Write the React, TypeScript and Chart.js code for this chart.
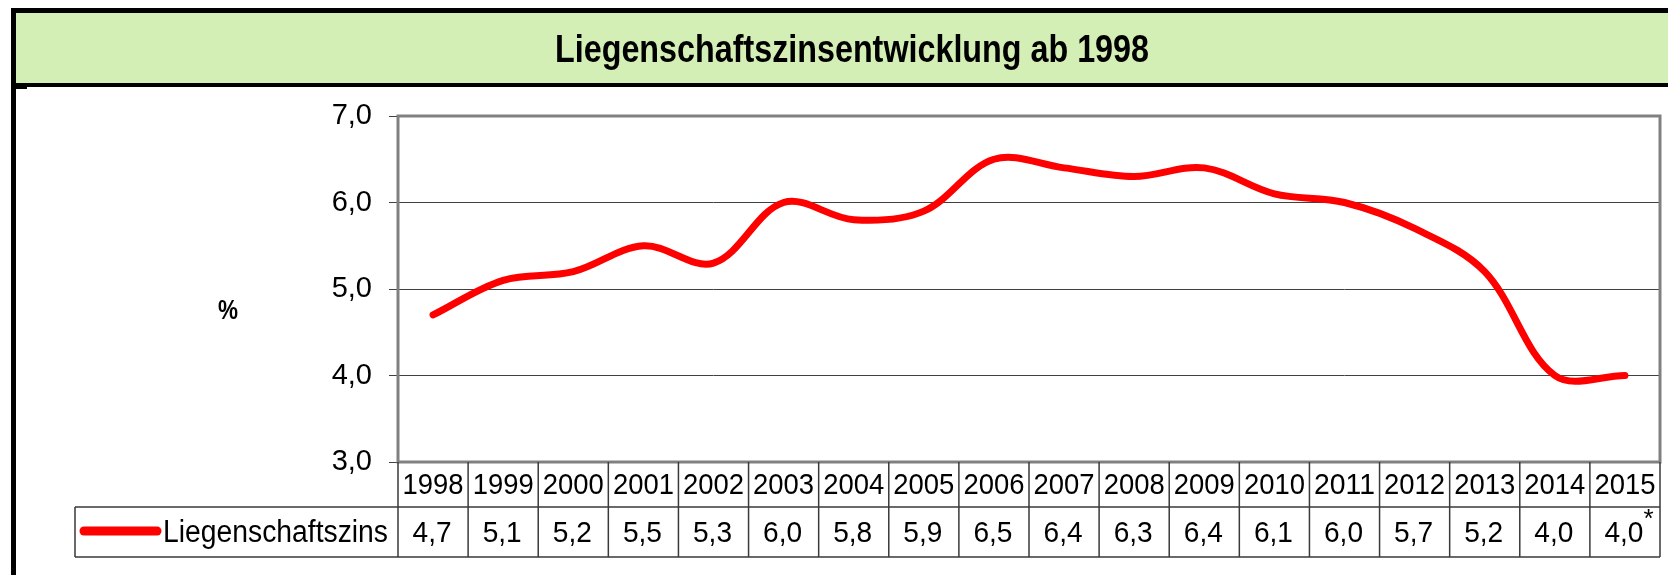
import React, { useEffect, useRef } from "react";
import { Chart, registerables } from "chart.js";

Chart.register(...registerables);

const TITLE = "Liegenschaftszinsentwicklung ab 1998";
const SERIES_NAME = "Liegenschaftszins";
const Y_UNIT = "%";
const YEARS = [
  "1998", "1999", "2000", "2001", "2002", "2003", "2004", "2005", "2006",
  "2007", "2008", "2009", "2010", "2011", "2012", "2013", "2014", "2015",
];
const VALUES = [
  4.7, 5.1, 5.2, 5.5, 5.3, 6.0, 5.8, 5.9, 6.5,
  6.4, 6.3, 6.4, 6.1, 6.0, 5.7, 5.2, 4.0, 4.0,
];
const VALUE_NOTES = [
  "", "", "", "", "", "", "", "", "",
  "", "", "", "", "", "", "", "", "*",
];
const Y_MIN = 3;
const Y_MAX = 7;
const Y_STEP = 1;

const W = 1668;
const H = 575;
const LINE_COLOR = "#ff0000";
const HEADER_GREEN = "#d3efb5";
const TABLE_LINE = "#3a3a3a";
const FONT = "'Liberation Sans', Arial, sans-serif";

const fmt = (v: number) => v.toFixed(1).replace(".", ",");

const framePlugin = {
  id: "frameAndTable",
  beforeDraw(chart: any) {
    const ctx = chart.ctx as CanvasRenderingContext2D;
    ctx.save();
    ctx.fillStyle = "#ffffff";
    ctx.fillRect(0, 0, chart.width, chart.height);
    // header band
    ctx.fillStyle = HEADER_GREEN;
    ctx.fillRect(14, 11, chart.width, 74);
    ctx.fillStyle = "#000000";
    ctx.fillRect(11, 8, chart.width, 5);
    ctx.fillRect(11, 83, chart.width, 4);
    ctx.fillRect(11, 8, 5, chart.height);
    ctx.fillRect(14, 87, 13, 2);
    // title
    ctx.font = "bold 39px 'Liberation Sans Narrow', 'Arial Narrow', " + FONT;
    ctx.textAlign = "center";
    ctx.textBaseline = "alphabetic";
    ctx.fillStyle = "#000000";
    ctx.fillText(TITLE, 852, 62, 594);
    // unit label
    ctx.font = "bold 28px " + FONT;
    ctx.textBaseline = "middle";
    ctx.fillText(Y_UNIT, 228, 311, 20);
    ctx.restore();
  },
  afterDraw(chart: any) {
    const ctx = chart.ctx as CanvasRenderingContext2D;
    const area = chart.chartArea;
    const xs = chart.scales.x;
    const n = YEARS.length;
    const colW = (area.right - area.left) / n;
    ctx.save();
    // plot border
    ctx.strokeStyle = "#808080";
    ctx.lineWidth = 3;
    ctx.strokeRect(area.left, area.top, area.right - area.left, area.bottom - area.top);

    const row1Top = area.bottom;
    const row1Bot = 507;
    const row2Bot = 557;
    const legendLeft = 75;

    ctx.strokeStyle = TABLE_LINE;
    ctx.lineWidth = 1.5;
    ctx.beginPath();
    ctx.moveTo(legendLeft, row1Bot);
    ctx.lineTo(area.right, row1Bot);
    ctx.moveTo(legendLeft, row2Bot);
    ctx.lineTo(area.right, row2Bot);
    ctx.moveTo(legendLeft, row1Bot);
    ctx.lineTo(legendLeft, row2Bot);
    for (let i = 0; i <= n; i++) {
      const x = i < n ? xs.getPixelForValue(i) - colW / 2 : xs.getPixelForValue(n - 1) + colW / 2;
      ctx.moveTo(x, row1Top);
      ctx.lineTo(x, row2Bot);
    }
    ctx.stroke();

    ctx.fillStyle = "#000000";
    ctx.textAlign = "center";
    ctx.textBaseline = "middle";
    for (let i = 0; i < n; i++) {
      const cx = xs.getPixelForValue(i);
      ctx.font = "30px " + FONT;
      ctx.fillText(YEARS[i], cx, (row1Top + row1Bot) / 2 + 1, 61);
      const vt = fmt(VALUES[i]);
      ctx.fillText(vt, cx - 1, (row1Bot + row2Bot) / 2 + 2, 39);
      if (VALUE_NOTES[i]) {
        const tw = Math.min(ctx.measureText(vt).width, 39);
        ctx.font = "26px " + FONT;
        ctx.textAlign = "left";
        ctx.fillText(VALUE_NOTES[i], cx - 1 + tw / 2, row1Bot + 13);
        ctx.textAlign = "center";
      }
    }
    // legend
    ctx.strokeStyle = LINE_COLOR;
    ctx.lineWidth = 9;
    ctx.lineCap = "round";
    ctx.beginPath();
    ctx.moveTo(84, (row1Bot + row2Bot) / 2 - 1);
    ctx.lineTo(157, (row1Bot + row2Bot) / 2 - 1);
    ctx.stroke();
    ctx.textAlign = "left";
    ctx.font = "31px " + FONT;
    ctx.fillText(SERIES_NAME, 163, (row1Bot + row2Bot) / 2 + 1, 225);
    ctx.restore();
  },
};

export default function App() {
  const canvasRef = useRef<HTMLCanvasElement | null>(null);

  useEffect(() => {
    if (!canvasRef.current) return;
    const chart = new Chart(canvasRef.current, {
      type: "line",
      data: {
        labels: YEARS,
        datasets: [
          {
            label: SERIES_NAME,
            data: VALUES,
            borderColor: LINE_COLOR,
            backgroundColor: LINE_COLOR,
            borderWidth: 7,
            borderCapStyle: "round",
            borderJoinStyle: "round",
            pointRadius: 0,
            tension: 0.35,
            fill: false,
          },
        ],
      },
      options: {
        responsive: false,
        animation: false,
        devicePixelRatio: 1,
        layout: { padding: { left: 0, top: 116, right: 8, bottom: 113 } },
        plugins: {
          legend: { display: false },
          title: { display: false },
          tooltip: { enabled: false },
        },
        scales: {
          x: {
            display: false,
            offset: true,
            grid: { display: false },
          },
          y: {
            min: Y_MIN,
            max: Y_MAX,
            afterFit: (scale: any) => {
              scale.width = 398;
            },
            ticks: {
              stepSize: Y_STEP,
              color: "#000000",
              padding: 17,
              font: { family: FONT, size: 29 },
              callback: (v: any) => fmt(Number(v)),
            },
            grid: {
              color: "#404040",
              lineWidth: 1,
              tickLength: 9,
              tickColor: "#404040",
            },
            border: { display: false },
          },
        },
      },
      plugins: [framePlugin],
    });
    return () => chart.destroy();
  }, []);

  return (
    <div style={{ position: "fixed", left: 0, top: 0, width: W, height: H, background: "#fff" }}>
      <canvas ref={canvasRef} width={W} height={H} style={{ display: "block", width: W, height: H }} />
    </div>
  );
}
